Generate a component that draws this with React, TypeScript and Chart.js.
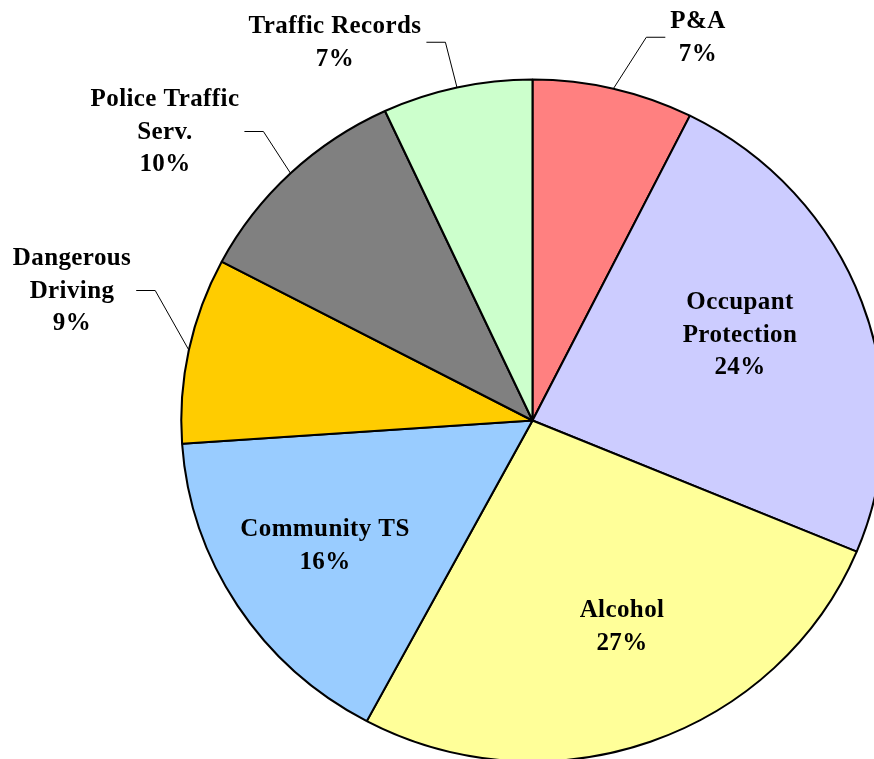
import React, { useEffect, useRef } from "react";
import { Chart, registerables } from "chart.js";

Chart.register(...registerables);

// ---- data ----
const categories: string[][] = [
  ["P&A"],
  ["Occupant", "Protection"],
  ["Alcohol"],
  ["Community TS"],
  ["Dangerous", "Driving"],
  ["Police Traffic", "Serv."],
  ["Traffic Records"],
];
const values = [7.4, 23.9, 26.55, 16.1, 8.8, 10.4, 6.9];
const colors = ["#FF8080", "#CCCCFF", "#FFFF99", "#99CCFF", "#FFCC00", "#808080", "#CCFFCC"];

// ---- label layout (text centre x, first baseline y, leader side) ----
const labelLayout = [
  { x: 698, y: 28, leader: "left" },
  { x: 740, y: 309, leader: "none" },
  { x: 622, y: 617, leader: "none" },
  { x: 325, y: 536, leader: "none" },
  { x: 72, y: 265, leader: "right" },
  { x: 165, y: 106, leader: "right" },
  { x: 335, y: 33, leader: "right" },
];

const SX = 1.03; // horizontal stretch of the pie (slightly elliptical)
const LINE = 32.5;

const ellipsePlugin = {
  id: "ellipse",
  beforeDatasetsDraw(chart: any) {
    const arc = chart.getDatasetMeta(0).data[0];
    if (!arc) return;
    const ctx = chart.ctx;
    ctx.save();
    ctx.translate(arc.x, 0);
    ctx.scale(SX, 1);
    ctx.translate(-arc.x, 0);
  },
  afterDatasetsDraw(chart: any) {
    chart.ctx.restore();
  },
};

const labelPlugin = {
  id: "pieLabels",
  afterDraw(chart: any) {
    const ctx = chart.ctx;
    const meta = chart.getDatasetMeta(0);
    const total = values.reduce((a, b) => a + b, 0);
    ctx.save();
    ctx.font = "bold 25px 'Liberation Serif', 'Times New Roman', serif";
    try { (ctx as any).letterSpacing = "0.4px"; } catch (e) {}
    ctx.fillStyle = "#000";
    ctx.textAlign = "center";
    ctx.textBaseline = "alphabetic";
    meta.data.forEach((arc: any, i: number) => {
      const lines = [...categories[i], Math.round((values[i] / total) * 100) + "%"];
      const L = labelLayout[i];
      lines.forEach((t, k) => ctx.fillText(t, L.x, L.y + k * LINE));
      if (L.leader !== "none") {
        const w = Math.max(...lines.map((t) => ctx.measureText(t).width));
        const midY = (L.y - 16 + L.y + (lines.length - 1) * LINE) / 2 + 1;
        const edgeX = L.leader === "left" ? L.x - w / 2 - 5 : L.x + w / 2 + 5;
        const elbowX = L.leader === "left" ? edgeX - 19 : edgeX + 19;
        const p = arc.getProps(["x", "y", "startAngle", "endAngle", "outerRadius"], true);
        const mid = (p.startAngle + p.endAngle) / 2;
        const px = p.x + SX * p.outerRadius * Math.cos(mid);
        const py = p.y + p.outerRadius * Math.sin(mid);
        ctx.beginPath();
        ctx.moveTo(edgeX, midY);
        ctx.lineTo(elbowX, midY);
        ctx.lineTo(px, py);
        ctx.strokeStyle = "#000";
        ctx.lineWidth = 1;
        ctx.stroke();
      }
    });
    ctx.restore();
  },
};

export default function App() {
  const ref = useRef<HTMLCanvasElement | null>(null);
  useEffect(() => {
    document.body.style.margin = "0";
    if (!ref.current) return;
    const chart = new Chart(ref.current, {
      type: "pie",
      data: {
        labels: categories.map((c) => c.join(" ")),
        datasets: [
          {
            data: values,
            backgroundColor: colors,
            borderColor: "#000",
            borderWidth: 2,
            clip: false,
          } as any,
        ],
      },
      options: {
        responsive: false,
        animation: false,
        devicePixelRatio: 1,
        radius: 341,
        layout: { padding: { left: 191, right: 0, top: 82, bottom: 0 } },
        plugins: {
          legend: { display: false },
          tooltip: { enabled: false },
        },
      } as any,
      plugins: [ellipsePlugin, labelPlugin],
    });
    return () => chart.destroy();
  }, []);
  return (
    <div style={{ width: 874, height: 759, background: "#fff" }}>
      <canvas ref={ref} width={874} height={759} style={{ display: "block", width: 874, height: 759 }} />
    </div>
  );
}
